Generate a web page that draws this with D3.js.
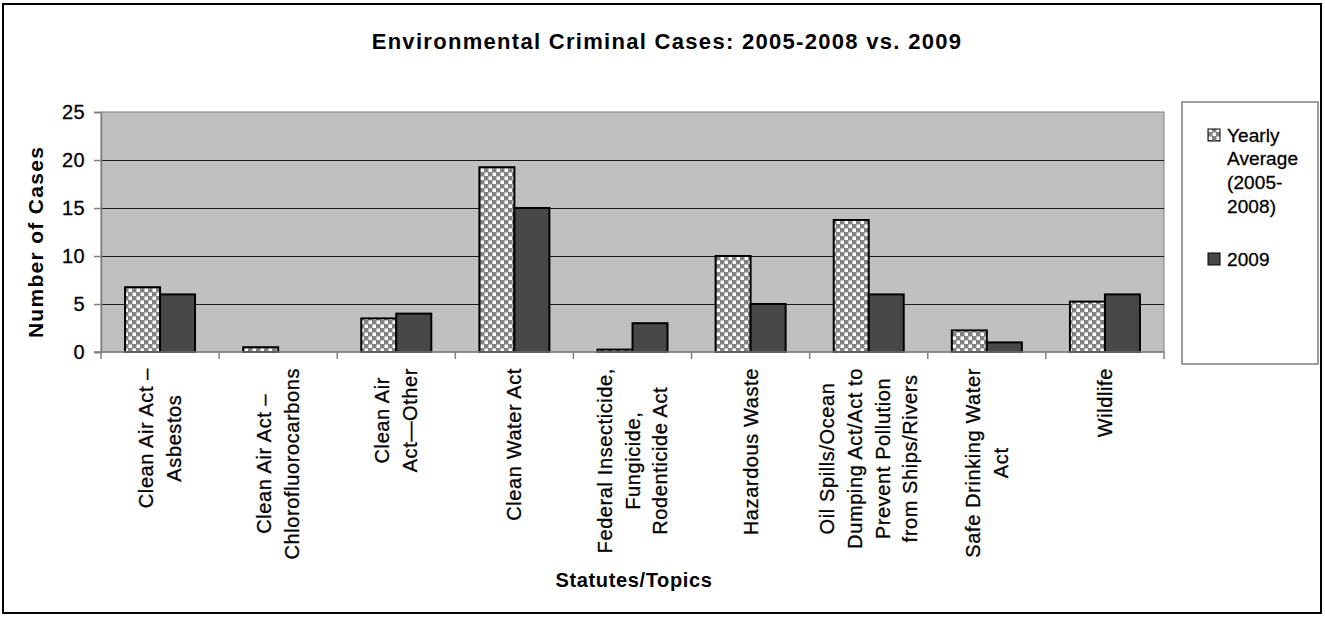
<!DOCTYPE html>
<html>
<head>
<meta charset="utf-8">
<script src="https://cdn.jsdelivr.net/npm/d3@7"></script>
<style>
  html, body { margin: 0; padding: 0; background: #fff; }
  svg { display: block; }
  text { font-family: "Liberation Sans", Arial, "DejaVu Sans", sans-serif; fill: #000; }
  text.reg { stroke: #000; stroke-width: 0.3px; }
</style>
</head>
<body>
<svg id="chart" width="1325" height="617"></svg>
<script>
// ---- data ----
const categories = [
  ["Clean Air Act –", "Asbestos"],
  ["Clean Air Act –", "Chlorofluorocarbons"],
  ["Clean Air", "Act—Other"],
  ["Clean Water Act"],
  ["Federal Insecticide,", "Fungicide,", "Rodenticide Act"],
  ["Hazardous Waste"],
  ["Oil Spills/Ocean", "Dumping Act/Act to", "Prevent Pollution", "from Ships/Rivers"],
  ["Safe Drinking Water", "Act"],
  ["Wildlife"]
];
const seriesNames = ["Yearly Average (2005-2008)", "2009"];
const legendLabels = [["Yearly", "Average", "(2005-", "2008)"], ["2009"]];
const yearlyAverage = [6.75, 0.5, 3.5, 19.25, 0.25, 10, 13.75, 2.25, 5.25];
const cases2009 = [6, 0, 4, 15, 3, 5, 6, 1, 6];
const yTicks = [0, 5, 10, 15, 20, 25];
const titleText = "Environmental Criminal Cases: 2005-2008 vs. 2009";
const xTitle = "Statutes/Topics";
const yTitle = "Number of Cases";

// ---- layout ----
const svg = d3.select("#chart");
const plot = { left: 101, right: 1164, top: 112, bottom: 352 };
const keys = categories.map((c, i) => "c" + i);
const values = [yearlyAverage, cases2009];

const x0 = d3.scaleBand().domain(keys).range([plot.left, plot.right]).padding(0);
const x1 = d3.scaleBand().domain([0, 1]).range([0, x0.bandwidth()])
  .paddingInner(0).paddingOuter((x0.bandwidth() / 35 - 2) / 2);
const y = d3.scaleLinear().domain([0, 25]).range([plot.bottom, plot.top]);

// pattern
const defs = svg.append("defs");
const pat = defs.append("pattern").attr("id", "checker")
  .attr("patternUnits", "userSpaceOnUse").attr("width", 8).attr("height", 8);
pat.append("rect").attr("width", 8).attr("height", 8).attr("fill", "#828282");
pat.append("rect").attr("x", 0.5).attr("y", 0.5).attr("width", 3.5).attr("height", 3.5).attr("fill", "#ffffff");
pat.append("rect").attr("x", 4.5).attr("y", 4.5).attr("width", 3.5).attr("height", 3.5).attr("fill", "#ffffff");
const fills = ["url(#checker)", "#484848"];

// outer border
svg.append("rect").attr("x", 3).attr("y", 4).attr("width", 1318).attr("height", 609)
  .attr("fill", "#fff").attr("stroke", "#000").attr("stroke-width", 2);

// title
svg.append("text").attr("x", 667).attr("y", 49).attr("text-anchor", "middle")
  .attr("font-size", 22).attr("font-weight", "bold").attr("letter-spacing", 1.3)
  .text(titleText);

// plot area
svg.append("rect").attr("x", plot.left).attr("y", plot.top)
  .attr("width", plot.right - plot.left).attr("height", plot.bottom - plot.top)
  .attr("fill", "#c0c0c0").attr("stroke", "#808080").attr("stroke-width", 1);

// gridlines
svg.append("g").selectAll("line").data(yTicks.filter(t => t > 0 && t < 25)).join("line")
  .attr("x1", plot.left).attr("x2", plot.right)
  .attr("y1", d => Math.round(y(d)) + 0.5).attr("y2", d => Math.round(y(d)) + 0.5)
  .attr("stroke", "#1a1a1a").attr("stroke-width", 1);

// y axis
const yAxis = d3.axisLeft(y).tickValues(yTicks).tickSize(7).tickPadding(9);
const gy = svg.append("g").attr("transform", `translate(${plot.left},0)`).call(yAxis);
gy.select(".domain").attr("stroke", "#808080").attr("stroke-width", 1.5);
gy.selectAll(".tick line").attr("stroke", "#808080").attr("stroke-width", 1.5);
gy.selectAll(".tick text").attr("class", "reg").attr("font-size", 20).attr("letter-spacing", 0.4)
  .attr("font-family", "Liberation Sans, Arial, sans-serif").attr("fill", "#000");

// bars
const gb = svg.append("g");
keys.forEach((k, i) => {
  [0, 1].forEach(s => {
    const v = values[s][i];
    if (v <= 0) return;
    gb.append("rect")
      .attr("x", x0(k) + x1(s))
      .attr("y", y(v))
      .attr("width", x1.bandwidth())
      .attr("height", y(0) - y(v))
      .attr("fill", fills[s])
      .attr("stroke", "#000").attr("stroke-width", 2);
  });
});

// x axis
const gx = svg.append("g");
gx.append("line").attr("x1", plot.left - 7).attr("x2", plot.right)
  .attr("y1", plot.bottom).attr("y2", plot.bottom)
  .attr("stroke", "#808080").attr("stroke-width", 1.5);
const bounds = keys.map(k => x0(k)).concat([x0(keys[keys.length - 1]) + x0.bandwidth()]);
gx.selectAll("line.tk").data(bounds).join("line").attr("class", "tk")
  .attr("x1", d => d).attr("x2", d => d)
  .attr("y1", plot.bottom).attr("y2", plot.bottom + 7)
  .attr("stroke", "#808080").attr("stroke-width", 1.5);

// x labels (rotated, multi-line, centered)
const lineGap = 27.7;
const labelTop = 368;
keys.forEach((k, i) => {
  const lines = categories[i];
  const cx = x0(k) + x0.bandwidth() / 2;
  const g = gx.append("g");
  const texts = lines.map(l => g.append("text").attr("class", "reg").attr("font-size", 20)
    .attr("letter-spacing", 0.6).attr("text-anchor", "middle").text(l));
  const maxLen = d3.max(texts, t => t.node().getComputedTextLength());
  texts.forEach((t, j) => {
    const lx = cx + (j - (lines.length - 1) / 2) * lineGap + 7;
    const ly = labelTop + maxLen / 2;
    t.attr("transform", `translate(${lx},${ly}) rotate(-90)`);
  });
});

// axis titles
svg.append("text").attr("x", 634).attr("y", 587).attr("text-anchor", "middle")
  .attr("font-size", 20).attr("font-weight", "bold").attr("letter-spacing", 0.65)
  .text(xTitle);
svg.append("text").attr("transform", "translate(43,242) rotate(-90)")
  .attr("text-anchor", "middle").attr("font-size", 21).attr("font-weight", "bold")
  .attr("letter-spacing", 1.3).text(yTitle);

// legend
const lg = svg.append("g");
lg.append("rect").attr("x", 1182).attr("y", 102).attr("width", 136).attr("height", 262)
  .attr("fill", "#fff").attr("stroke", "#808080").attr("stroke-width", 1.5);
const legendTops = [129, 253];
seriesNames.forEach((name, s) => {
  lg.append("rect").attr("x", 1208).attr("y", legendTops[s]).attr("width", 12).attr("height", 12)
    .attr("fill", fills[s]).attr("stroke", "#000").attr("stroke-width", 1);
  legendLabels[s].forEach((l, j) => {
    lg.append("text").attr("class", "reg").attr("x", 1227).attr("y", legendTops[s] + 12.5 + j * 23.7)
      .attr("font-size", 19).attr("letter-spacing", 0.1).text(l);
  });
});
</script>
</body>
</html>
